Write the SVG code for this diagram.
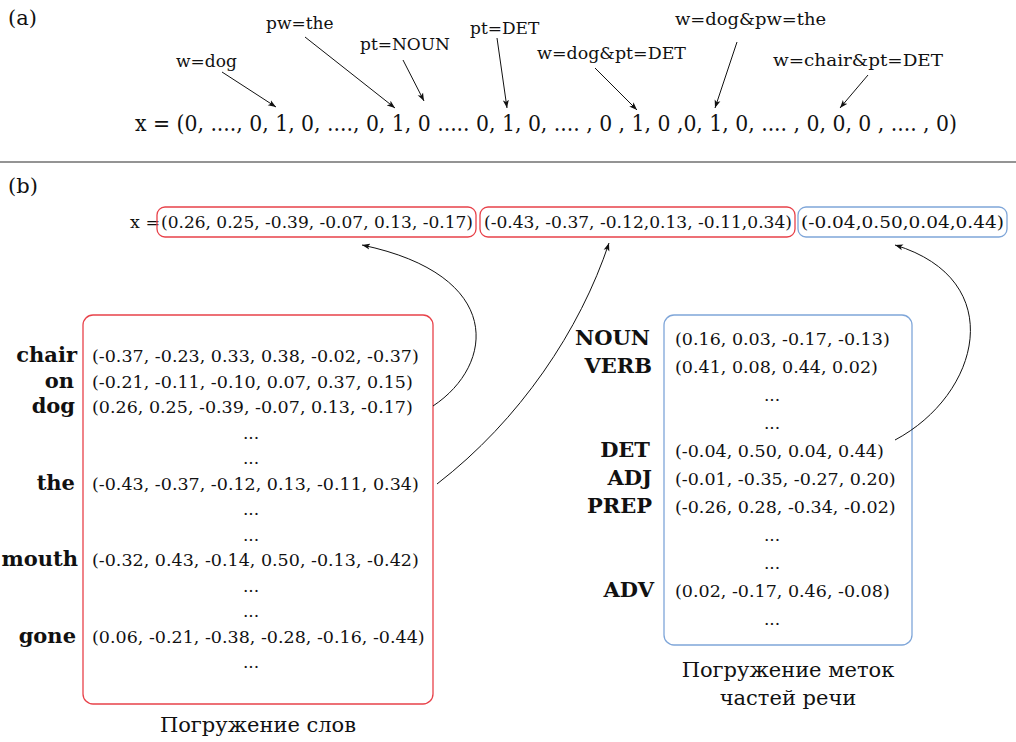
<svg xmlns="http://www.w3.org/2000/svg" width="1016" height="742" viewBox="0 0 1016 742">
<style>
text{font-family:"DejaVu Serif","Liberation Serif",serif;fill:#111}
.lab{font-size:17px}
.big{font-size:21px}
.v{font-size:17.5px}
.b{font-size:21px;font-weight:bold;text-anchor:end}
.d{font-size:17px;text-anchor:middle}
.cap{font-size:21px;text-anchor:middle}
.arr{fill:none;stroke:#111;stroke-width:1}
.red{fill:none;stroke:#e8424a;stroke-width:1.3}
.blue{fill:none;stroke:#7fa6d9;stroke-width:1.3}
</style>
<defs>
<marker id="ah" markerWidth="9" markerHeight="7" refX="8" refY="3.5" orient="auto" markerUnits="userSpaceOnUse">
<path d="M0,0.5 L8,3.5 L0,6.5 L2,3.5 z" fill="#111"/>
</marker>
</defs>
<rect width="1016" height="742" fill="#fff"/>

<g id="part-a">
<text class="big" x="8" y="25">(a)</text>
<text class="lab" x="176" y="67">w=dog</text>
<text class="lab" x="266" y="29">pw=the</text>
<text class="lab" x="360" y="50">pt=NOUN</text>
<text class="lab" x="470" y="34">pt=DET</text>
<text class="lab" x="537" y="59" textLength="149" lengthAdjust="spacingAndGlyphs">w=dog&amp;pt=DET</text>
<text class="lab" x="675" y="25" textLength="151" lengthAdjust="spacingAndGlyphs">w=dog&amp;pw=the</text>
<text class="lab" x="773" y="66" textLength="170" lengthAdjust="spacingAndGlyphs">w=chair&amp;pt=DET</text>
<text id="onehot" x="135" y="131" style="font-size:22px" textLength="822" lengthAdjust="spacingAndGlyphs">x = (0, ...., 0, 1, 0, ...., 0, 1, 0 ..... 0, 1, 0, .... , 0 , 1, 0 ,0, 1, 0, .... , 0, 0, 0 , .... , 0)</text>
</g>

<line x1="0" y1="162" x2="1016" y2="162" stroke="#707070" stroke-width="1.5"/>

<g id="part-b-header">
<text class="big" x="8" y="193">(b)</text>
<text class="v" x="130" y="228">x =</text>
</g>
<g id="xbox1">
<rect class="red" x="157" y="207" width="319" height="30" rx="8"/>
<text class="v" x="161" y="228" textLength="312" lengthAdjust="spacingAndGlyphs">(0.26, 0.25, -0.39, -0.07, 0.13, -0.17)</text>
</g>
<g id="xbox2">
<rect class="red" x="480" y="207" width="315" height="30" rx="8"/>
<text class="v" x="484" y="228" textLength="308" lengthAdjust="spacingAndGlyphs">(-0.43, -0.37, -0.12,0.13, -0.11,0.34)</text>
</g>
<g id="xbox3">
<rect class="blue" x="798" y="207" width="209" height="30" rx="8"/>
<text class="v" x="801" y="228" textLength="203" lengthAdjust="spacingAndGlyphs">(-0.04,0.50,0.04,0.44)</text>
</g>

<g id="word-embeddings">
<rect class="red" x="83" y="315" width="350" height="389" rx="10"/>
<text class="b" x="77" y="362">chair</text>
<text class="v" x="92" y="362">(-0.37, -0.23, 0.33, 0.38, -0.02, -0.37)</text>
<text class="b" x="74" y="387.5">on</text>
<text class="v" x="92" y="387.5">(-0.21, -0.11, -0.10, 0.07, 0.37, 0.15)</text>
<text class="b" x="75" y="413">dog</text>
<text class="v" x="92" y="413">(0.26, 0.25, -0.39, -0.07, 0.13, -0.17)</text>
<text class="d" x="251" y="438.5">...</text>
<text class="d" x="251" y="464">...</text>
<text class="b" x="75" y="489.5">the</text>
<text class="v" x="92" y="489.5">(-0.43, -0.37, -0.12, 0.13, -0.11, 0.34)</text>
<text class="d" x="251" y="515">...</text>
<text class="d" x="251" y="540.5">...</text>
<text class="b" x="78" y="566">mouth</text>
<text class="v" x="92" y="566">(-0.32, 0.43, -0.14, 0.50, -0.13, -0.42)</text>
<text class="d" x="251" y="591.5">...</text>
<text class="d" x="251" y="617">...</text>
<text class="b" x="76" y="642.5">gone</text>
<text class="v" x="92" y="642.5">(0.06, -0.21, -0.38, -0.28, -0.16, -0.44)</text>
<text class="d" x="251" y="668">...</text>
<text class="cap" x="258" y="732">Погружение слов</text>
</g>

<g id="pos-embeddings">
<rect class="blue" x="664" y="315" width="248" height="330" rx="10"/>
<text class="b" x="650" y="345">NOUN</text>
<text class="v" x="675" y="345">(0.16, 0.03, -0.17, -0.13)</text>
<text class="b" x="652" y="373">VERB</text>
<text class="v" x="675" y="373">(0.41, 0.08, 0.44, 0.02)</text>
<text class="d" x="772" y="401">...</text>
<text class="d" x="772" y="429">...</text>
<text class="b" x="650" y="457">DET</text>
<text class="v" x="675" y="457">(-0.04, 0.50, 0.04, 0.44)</text>
<text class="b" x="652" y="485">ADJ</text>
<text class="v" x="675" y="485">(-0.01, -0.35, -0.27, 0.20)</text>
<text class="b" x="652" y="513">PREP</text>
<text class="v" x="675" y="513">(-0.26, 0.28, -0.34, -0.02)</text>
<text class="d" x="772" y="541">...</text>
<text class="d" x="772" y="569">...</text>
<text class="b" x="654" y="597">ADV</text>
<text class="v" x="675" y="597">(0.02, -0.17, 0.46, -0.08)</text>
<text class="d" x="772" y="625">...</text>
<text class="cap" x="788" y="677">Погружение меток</text>
<text class="cap" x="788" y="705">частей речи</text>
</g>

<g id="connectors">
<line class="arr" x1="222" y1="72" x2="276" y2="107" marker-end="url(#ah)"/>
<line class="arr" x1="305" y1="37" x2="395" y2="108" marker-end="url(#ah)"/>
<line class="arr" x1="403" y1="60" x2="424" y2="101" marker-end="url(#ah)"/>
<line class="arr" x1="497" y1="38" x2="507" y2="108" marker-end="url(#ah)"/>
<line class="arr" x1="595" y1="68" x2="637" y2="110" marker-end="url(#ah)"/>
<line class="arr" x1="737" y1="42" x2="715" y2="108" marker-end="url(#ah)"/>
<line class="arr" x1="868" y1="75" x2="840" y2="108" marker-end="url(#ah)"/>
<path class="arr" d="M433,406 C495,365 505,275 362,245" marker-end="url(#ah)"/>
<path class="arr" d="M437,484 C520,420 580,330 609,243" marker-end="url(#ah)"/>
<path class="arr" d="M895,440 C980,395 1010,280 895,245" marker-end="url(#ah)"/>
</g>
</svg>
